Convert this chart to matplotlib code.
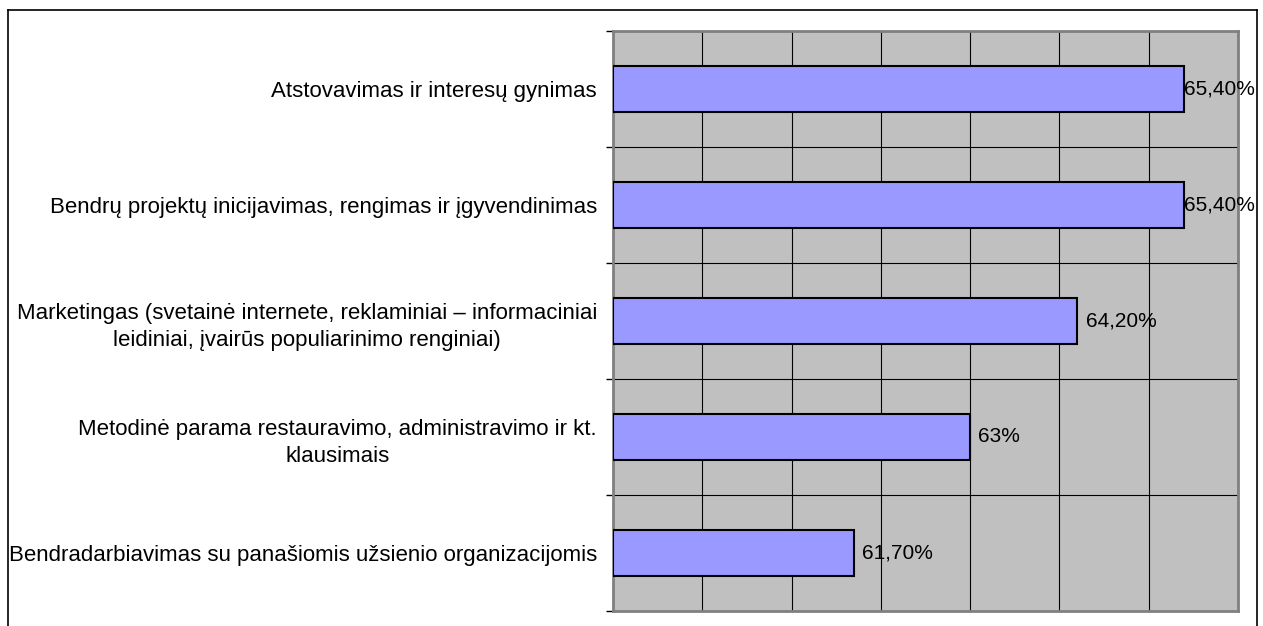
import numpy as np
import matplotlib.pyplot as plt
from matplotlib.lines import Line2D

plt.rcParams['font.family'] = ['Liberation Sans', 'DejaVu Sans']

categories = ['Atstovavimas ir interesų gynimas',
              'Bendrų projektų inicijavimas, rengimas ir įgyvendinimas',
              'Marketingas (svetainė internete, reklaminiai – informaciniai\nleidiniai, įvairūs populiarinimo renginiai)',
              'Metodinė parama restauravimo, administravimo ir kt.\nklausimais',
              'Bendradarbiavimas su panašiomis užsienio organizacijomis']
values = [65.4, 65.4, 64.2, 63.0, 61.7]
value_labels = ['65,40%', '65,40%', '64,20%', '63%', '61,70%']

fig = plt.figure(figsize=(12.63, 6.26), dpi=100)
ax = fig.add_axes([613/1263, 1 - 611/626, 625/1263, 580/626])
ax.set_facecolor('#c0c0c0')

y = np.arange(len(categories))
x0 = 59
ax.barh(y, np.array(values) - x0, left=x0, height=0.4,
        color='#9999ff', edgecolor='black', linewidth=1.5, zorder=3)

ax.set_xlim(59, 66)
ax.set_ylim(len(categories) - 0.5, -0.5)

ax.set_xticks(np.arange(59, 67, 1))
ax.set_xticklabels([])
ax.tick_params(axis='x', length=0)
ax.xaxis.grid(True, color='black', linewidth=0.8, zorder=1)

ax.set_yticks(y)
ax.set_yticklabels(categories, fontsize=16, multialignment='center', linespacing=1.4)
ax.tick_params(axis='y', which='major', length=0, pad=11.5)
ax.set_yticks(np.arange(-0.5, len(categories), 1), minor=True)
ax.tick_params(axis='y', which='minor', length=5, width=1, color='black', direction='out')
ax.yaxis.grid(True, which='minor', color='black', linewidth=0.8, zorder=1)
ax.set_axisbelow(True)

for s in ax.spines.values():
    s.set_color('#808080')
    s.set_linewidth(2)

# labels of the longest bars are pushed left to stay inside the chart
for yi, v, lab in zip(y, values, value_labels):
    off = 0 if v == max(values) else 6
    ax.annotate(lab, (v, yi), xytext=(off, 0), textcoords='offset points',
                va='center', ha='left', fontsize=15, zorder=4)

# outer chart frame
fig.add_artist(Line2D([8/1263, 1257/1263], [1 - 10/626, 1 - 10/626], color='black', lw=1.2))
fig.add_artist(Line2D([8/1263, 8/1263], [1 - 10/626, 0], color='black', lw=1.2))
fig.add_artist(Line2D([1257/1263, 1257/1263], [1 - 10/626, 0], color='black', lw=1.2))

fig.savefig('out.png', dpi=100)
